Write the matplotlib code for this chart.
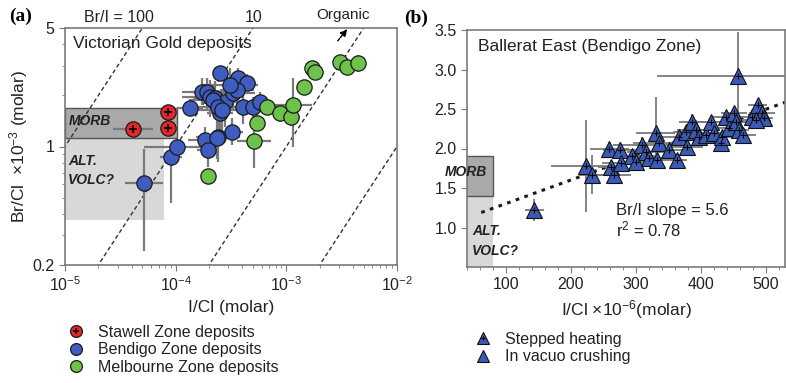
import matplotlib
matplotlib.use("Agg")
import matplotlib.pyplot as plt
import numpy as np
from matplotlib.lines import Line2D
from matplotlib.patches import Rectangle
from matplotlib.ticker import FixedLocator, NullFormatter, MultipleLocator, LogLocator

plt.rcParams['font.family'] = ['Liberation Sans', 'DejaVu Sans']
plt.rcParams['mathtext.fontset'] = 'custom'
plt.rcParams['mathtext.rm'] = 'Liberation Sans'
plt.rcParams['mathtext.it'] = 'Liberation Sans:italic'
plt.rcParams['mathtext.bf'] = 'Liberation Sans:bold'

# ---------------- (a) Victorian gold deposits: I/Cl vs Br/Cl (x1e-3) ----------------
stawell_x = [8.5e-5, 8.5e-5, 4.1e-5]
stawell_y = [1.60, 1.28, 1.27]
stawell_xerr = [0.04, 0.05, 0.18]          # half-width, dex
stawell_yerr = [0.03, 0.03, 0.03]

bendigo_x = [5.17e-5, 9.07e-5, 1.03e-4, 1.35e-4, 1.73e-4, 1.92e-4, 2.51e-4, 3.65e-4,
             4.41e-4, 2.04e-4, 2.26e-4, 2.79e-4, 2.51e-4, 2.17e-4, 2.41e-4, 2.62e-4,
             3.29e-4, 3.58e-4, 4.06e-4, 4.99e-4, 5.77e-4, 3.23e-4, 2.41e-4, 1.84e-4,
             2.36e-4, 1.96e-4, 3.09e-4]
bendigo_y = [0.61, 0.87, 0.99, 1.69, 2.10, 2.10, 2.71, 2.54, 2.37, 1.96, 1.93, 1.83,
             1.58, 1.88, 1.71, 1.64, 2.07, 2.15, 1.71, 1.71, 1.83, 1.22, 1.14, 1.09,
             1.12, 0.95, 2.31]
bendigo_xerr = [0.17, 0.10, 0.30, 0.12, 0.18, 0.15, 0.05, 0.10, 0.08, 0.25, 0.20, 0.15,
                0.12, 0.20, 0.18, 0.22, 0.20, 0.15, 0.22, 0.15, 0.12, 0.10, 0.20, 0.15,
                0.12, 0.10, 0.25]
bendigo_ylo = [0.40, 0.27, 0.05, 0.05, 0.08, 0.10, 0.04, 0.06, 0.05, 0.12, 0.10, 0.15,
               0.12, 0.08, 0.10, 0.15, 0.10, 0.08, 0.10, 0.08, 0.06, 0.08, 0.15, 0.10,
               0.12, 0.10, 0.10]
bendigo_yhi = [0.20, 0.05, 0.05, 0.05, 0.08, 0.08, 0.04, 0.06, 0.05, 0.10, 0.10, 0.10,
               0.08, 0.08, 0.10, 0.10, 0.10, 0.08, 0.08, 0.06, 0.06, 0.08, 0.08, 0.08,
               0.10, 0.08, 0.10]

melbourne_x = [1.96e-4, 5.1e-4, 5.4e-4, 6.7e-4, 8.7e-4, 1.1e-3, 1.15e-3, 1.44e-3,
               1.7e-3, 1.8e-3, 3.05e-3, 3.5e-3, 4.4e-3]
melbourne_y = [0.67, 1.08, 1.38, 1.71, 1.57, 1.49, 1.76, 2.24, 2.90, 2.75, 3.15, 2.94, 3.10]
melbourne_xerr = [0.03, 0.15, 0.06, 0.12, 0.08, 0.08, 0.17, 0.04, 0.03, 0.03, 0.04, 0.04, 0.06]
melbourne_ylo = [0.03, 0.16, 0.05, 0.05, 0.05, 0.05, 0.25, 0.04, 0.03, 0.03, 0.03, 0.03, 0.05]
melbourne_yhi = [0.03, 0.06, 0.05, 0.05, 0.05, 0.05, 0.16, 0.04, 0.03, 0.03, 0.03, 0.03, 0.05]

br_i_ratios = [100, 10, 1, 0.1]

# MORB and altered volcanic fields (I/Cl range, Br/Cl x1e-3 range)
morb_a = (1e-5, 1.03e-4, 1.12, 1.69)
altvolc_a = (1e-5, 7.8e-5, 0.37, 1.12)

# ---------------- (b) Ballarat East: I/Cl (x1e-6) vs Br/Cl (x1e-3) ----------------
tri_x = [144, 224, 232, 259, 275, 262, 267, 278, 295, 301, 310, 316, 321, 333, 331, 336,
         351, 364, 367, 377, 379, 387, 393, 397, 408, 416, 420, 431, 433, 439, 443, 451,
         454, 459, 466, 479, 488, 494, 497, 485, 457]
tri_y = [1.22, 1.78, 1.67, 2.00, 1.98, 1.76, 1.67, 1.82, 1.90, 1.83, 2.05, 1.96, 1.88,
         1.86, 2.20, 2.07, 1.98, 1.86, 2.14, 2.21, 2.02, 2.34, 2.24, 2.15, 2.17, 2.33,
         2.20, 2.07, 2.15, 2.40, 2.26, 2.45, 2.33, 2.24, 2.17, 2.40, 2.55, 2.45, 2.39,
         2.36, 2.92]
tri_xerr = [15, 55, 20, 30, 25, 20, 25, 30, 35, 25, 45, 30, 25, 20, 30, 40, 25, 15, 30,
            20, 25, 20, 30, 25, 20, 25, 20, 15, 20, 25, 20, 20, 25, 15, 20, 20, 15, 20,
            15, 20, 125]
tri_yerr = [0.14, 0.58, 0.25, 0.08, 0.10, 0.10, 0.08, 0.08, 0.10, 0.08, 0.10, 0.08, 0.10,
            0.08, 0.45, 0.10, 0.08, 0.06, 0.10, 0.08, 0.08, 0.10, 0.12, 0.08, 0.10, 0.08,
            0.10, 0.12, 0.08, 0.08, 0.10, 0.08, 0.08, 0.06, 0.08, 0.08, 0.06, 0.06, 0.06,
            0.06, 0.55]

fit_intercept = 1.005
fit_slope = 0.00298
fit_xrange = (62, 530)

morb_b = (30, 80, 1.4, 1.9)
altvolc_b = (30, 80, 0.5, 1.4)

# ---------------- styling ----------------
RED = '#E5262B'
BLUE = '#3F5CC0'
GREEN = '#6DC24B'
TRI = '#3A5AB6'
ERR = '#7A7A7A'
FRAME = '#7A7A7A'
TXT = '#222222'

W, H = 786, 383
fig = plt.figure(figsize=(W / 100, H / 100), dpi=100)


def fx(px):
    return px / W


def fy(py):
    return 1 - py / H


def dex_err(vals, lo, hi):
    v = np.asarray(vals, float)
    return [v - v / 10 ** np.asarray(lo), v * 10 ** np.asarray(hi) - v]


def style_frame(ax):
    for s in ax.spines.values():
        s.set_color(FRAME)
        s.set_linewidth(1.2)
    ax.tick_params(which='both', direction='out', color=FRAME, labelcolor=TXT,
                   labelsize=11.5)
    ax.tick_params(which='major', length=4)
    ax.tick_params(which='minor', length=2.5)


# ---- panel (a)
axa = fig.add_axes([fx(65), fy(265), fx(397) - fx(65), fy(28) - fy(265)])
axa.set_xscale('log')
axa.set_yscale('log')
axa.set_xlim(1e-5, 1e-2)
axa.set_ylim(0.2, 5)

x0, x1, y0, y1 = altvolc_a
axa.add_patch(Rectangle((x0, y0), x1 - x0, y1 - y0, facecolor='#D8D8D8',
                        edgecolor='none', zorder=0.5))
x0, x1, y0, y1 = morb_a
axa.add_patch(Rectangle((x0, y0), x1 - x0, y1 - y0, facecolor='#A9A9A9',
                        edgecolor='#555555', lw=1.0, zorder=0.6))

xx = np.array([1e-6, 1e-1])
for r in br_i_ratios:
    axa.plot(xx, r * xx * 1e3, ls=(0, (3, 2)), color='#333333', lw=1.0, zorder=1)

for xs, ys, xe, ylo, yhi in [
        (bendigo_x, bendigo_y, bendigo_xerr, bendigo_ylo, bendigo_yhi),
        (melbourne_x, melbourne_y, melbourne_xerr, melbourne_ylo, melbourne_yhi),
        (stawell_x, stawell_y, stawell_xerr, stawell_yerr, stawell_yerr)]:
    axa.errorbar(xs, ys, xerr=dex_err(xs, xe, xe), yerr=dex_err(ys, ylo, yhi),
                 fmt='none', ecolor=ERR, elinewidth=1.6, capsize=0, zorder=2)

circ = dict(ls='none', marker='o', ms=11, mec='#1A1A1A', mew=0.9, zorder=3)
axa.plot(bendigo_x, bendigo_y, mfc=BLUE, **circ)
axa.plot(melbourne_x, melbourne_y, mfc=GREEN, **circ)
axa.plot(stawell_x, stawell_y, mfc=RED, **circ)
axa.plot(stawell_x, stawell_y, ls='none', marker='+', ms=6, mew=1.2, color='k', zorder=4)

axa.yaxis.set_major_locator(FixedLocator([0.2, 1, 5]))
axa.set_yticklabels(['0.2', '1', '5'])
axa.yaxis.set_minor_locator(FixedLocator([0.3, 0.4, 0.5, 0.6, 0.7, 0.8, 0.9, 2, 3, 4]))
axa.yaxis.set_minor_formatter(NullFormatter())
axa.xaxis.set_major_locator(FixedLocator([1e-5, 1e-4, 1e-3, 1e-2]))
axa.set_xticklabels(['10$^{-5}$', '10$^{-4}$', '10$^{-3}$', '10$^{-2}$'])
axa.xaxis.set_minor_locator(LogLocator(base=10, subs=np.arange(2, 10)))
axa.xaxis.set_minor_formatter(NullFormatter())
style_frame(axa)
axa.set_xlabel('I/Cl (molar)', fontsize=12.5, color=TXT, labelpad=4)
axa.set_ylabel('Br/Cl  ×10$^{-3}$ (molar)', fontsize=12.5, color=TXT, labelpad=2)

axa.text(0.025, 0.935, 'Victorian Gold deposits', transform=axa.transAxes,
         fontsize=12.5, color=TXT, va='center', ha='left')
axa.text(1.07e-5, 1.42, 'MORB', fontsize=10, fontweight='bold', style='italic',
         color=TXT, va='center', ha='left')
axa.text(1.07e-5, 0.72, 'ALT.\nVOLC?', fontsize=10, fontweight='bold', style='italic',
         color=TXT, va='center', ha='left', linespacing=1.5)

# ratio labels above the frame
fig.text(fx(119), fy(18), 'Br/I = 100', fontsize=11.5, color=TXT, ha='center', va='center')
fig.text(fx(254), fy(18), '10', fontsize=11.5, color=TXT, ha='center', va='center')
fig.text(fx(343), fy(15), 'Organic', fontsize=11, color=TXT, ha='center', va='center')
fig.patches.append(matplotlib.patches.FancyArrowPatch(
    (fx(336), fy(43)), (fx(349), fy(27)), transform=fig.transFigure,
    arrowstyle='-|>', mutation_scale=10, color='k', lw=1.0, ls=(0, (2, 1))))
fig.text(fx(21), fy(16), '(a)', fontsize=14, fontweight='bold',
         family=['Liberation Serif', 'DejaVu Serif'], ha='center', va='center')

# ---- panel (b)
axb = fig.add_axes([fx(467), fy(267), fx(785) - fx(467), fy(30) - fy(267)])
axb.set_xlim(40, 530)
axb.set_ylim(0.5, 3.5)

x0, x1, y0, y1 = altvolc_b
axb.add_patch(Rectangle((x0, y0), x1 - x0, y1 - y0, facecolor='#D8D8D8',
                        edgecolor='none', zorder=0.5))
x0, x1, y0, y1 = morb_b
axb.add_patch(Rectangle((x0, y0), x1 - x0, y1 - y0, facecolor='#A9A9A9',
                        edgecolor='#555555', lw=1.0, zorder=0.6))

fx_line = np.array(fit_xrange, float)
axb.plot(fx_line, fit_intercept + fit_slope * fx_line, ls=(0, (1.2, 1.8)), lw=2.2,
         color='#1A1A1A', zorder=1)

axb.errorbar(tri_x, tri_y, xerr=tri_xerr, yerr=tri_yerr, fmt='none', ecolor=ERR,
             elinewidth=1.3, capsize=0, zorder=2)
axb.plot(tri_x, tri_y, ls='none', marker='^', ms=11, mfc=TRI, mec='#111111', mew=0.8,
         zorder=3)
axb.plot(tri_x, tri_y, ls='none', marker='+', ms=4, mew=0.8, color='k', zorder=4)

axb.set_yticks([1.0, 1.5, 2.0, 2.5, 3.0, 3.5])
axb.set_yticklabels(['1.0', '1.5', '2.0', '2.5', '3.0', '3.5'])
axb.xaxis.set_major_locator(FixedLocator([100, 200, 300, 400, 500]))
axb.xaxis.set_minor_locator(MultipleLocator(20))
style_frame(axb)
axb.set_xlabel('I/Cl ×10$^{-6}$(molar)', fontsize=12.5, color=TXT, labelpad=4)

axb.text(0.035, 0.93, 'Ballerat East (Bendigo Zone)', transform=axb.transAxes,
         fontsize=12.5, color=TXT, va='center', ha='left')
axb.text(270, 1.22, 'Br/I slope = 5.6', fontsize=12, color=TXT, va='center', ha='left')
axb.text(270, 0.97, 'r$^2$ = 0.78', fontsize=12, color=TXT, va='center', ha='left')
fig.text(fx(466), fy(172), 'MORB', fontsize=10, fontweight='bold', style='italic',
         color=TXT, va='center', ha='center')
axb.text(48, 0.83, 'ALT.\nVOLC?', fontsize=10, fontweight='bold', style='italic',
         color=TXT, va='center', ha='left', linespacing=1.5)
fig.text(fx(416), fy(18), '(b)', fontsize=14, fontweight='bold',
         family=['Liberation Serif', 'DejaVu Serif'], ha='center', va='center')

# ---- legends
red_h = (Line2D([], [], ls='none', marker='o', ms=8.5, mfc=RED, mec='#1A1A1A', mew=0.9),
         Line2D([], [], ls='none', marker='+', ms=5, mew=1.1, color='k'))
blue_h = Line2D([], [], ls='none', marker='o', ms=8.5, mfc=BLUE, mec='#1A1A1A', mew=0.9)
green_h = Line2D([], [], ls='none', marker='o', ms=8.5, mfc=GREEN, mec='#1A1A1A', mew=0.9)
fig.legend([red_h, blue_h, green_h],
           ['Stawell Zone deposits', 'Bendigo Zone deposits', 'Melbourne Zone deposits'],
           loc='upper left', bbox_to_anchor=(fx(66), fy(325)), frameon=False,
           fontsize=11.5, handlelength=1.2, handletextpad=0.8, labelspacing=0.15,
           borderpad=0, borderaxespad=0, labelcolor=TXT)

step_h = (Line2D([], [], ls='none', marker='^', ms=8.5, mfc=TRI, mec='#111111', mew=0.8),
          Line2D([], [], ls='none', marker='+', ms=3.5, mew=0.8, color='k'))
crush_h = Line2D([], [], ls='none', marker='^', ms=8.5, mfc=TRI, mec='#111111', mew=0.8)
fig.legend([step_h, crush_h], ['Stepped heating', 'In vacuo crushing'],
           loc='upper left', bbox_to_anchor=(fx(473), fy(332)), frameon=False,
           fontsize=11.5, handlelength=1.2, handletextpad=0.8, labelspacing=0.15,
           borderpad=0, borderaxespad=0, labelcolor=TXT)

fig.savefig('out.png', dpi=100)
